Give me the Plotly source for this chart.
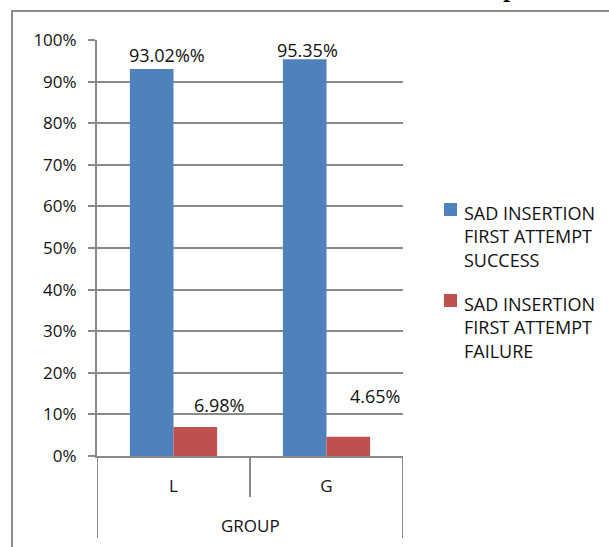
import plotly.graph_objects as go

categories = ["L", "G"]
success = [0.9302, 0.9535]
failure = [0.0698, 0.0465]
success_labels = ["93.02%%", "95.35%"]
failure_labels = ["6.98%", "4.65%"]
series_names = ["SAD INSERTION<br>FIRST ATTEMPT<br>SUCCESS", "SAD INSERTION<br>FIRST ATTEMPT<br>FAILURE"]
colors = ["#4F81BD", "#C0504D"]
axis_title = "GROUP"

W, H = 609, 547
L, R, T, B = 97, 403, 40, 456  # plot area in pixels
pw, ph = R - L, B - T

def px(x):
    return (x - L) / pw

def py(y):
    return (B - y) / ph

FONT = "Open Sans"
GRID = "#8a8a8a"
xs = list(range(len(categories)))

fig = go.Figure()
fig.add_trace(go.Bar(x=xs, y=success, marker=dict(color=colors[0], line=dict(width=0)), showlegend=False))
fig.add_trace(go.Bar(x=xs, y=failure, marker=dict(color=colors[1], line=dict(width=0)), showlegend=False))

annotations = []
# data labels
s_shift = [(-6.5, 14), (-19.5, 9)]
f_shift = [(45.5, 22), (48.5, 41)]
for i in xs:
    annotations.append(dict(x=i, y=success[i], xref="x", yref="y", text=success_labels[i], showarrow=False,
                            xshift=s_shift[i][0], yshift=s_shift[i][1], yanchor="middle",
                            font=dict(size=18, color="#111", family=FONT)))
    annotations.append(dict(x=i, y=failure[i], xref="x", yref="y", text=failure_labels[i], showarrow=False,
                            xshift=f_shift[i][0], yshift=f_shift[i][1], yanchor="middle",
                            font=dict(size=18, color="#111", family=FONT)))
# axis title
annotations.append(dict(x=0.5, y=py(525), xref="paper", yref="paper", text=axis_title, showarrow=False,
                        xanchor="center", yanchor="middle", font=dict(size=17, color="#111", family=FONT)))
# legend (manual)
shapes = []
leg_y = [212, 303]
for k in range(2):
    shapes.append(dict(type="rect", xref="paper", yref="paper", x0=px(444), x1=px(457),
                       y0=py(leg_y[k] - 9 + 13), y1=py(leg_y[k] - 9), fillcolor=colors[k], line=dict(width=0)))
    annotations.append(dict(x=px(462), y=py(leg_y[k] - 13), xref="paper", yref="paper", text=series_names[k],
                            showarrow=False, xanchor="left", yanchor="top", align="left",
                            font=dict(size=18, color="#111", family=FONT)))
# partial title glyph at top (cut off)
annotations.append(dict(x=px(510), y=py(5), xref="paper", yref="paper", text="<b>p</b>", showarrow=False,
                        xanchor="center", yanchor="bottom", font=dict(size=26, color="#000", family="Liberation Serif")))

# category separators below axis
for xv, ybot in [(-0.5, 538), (0.5, 497), (1.5, 538)]:
    shapes.append(dict(type="line", xref="x", yref="paper", x0=xv, x1=xv, y0=0, y1=py(ybot),
                       line=dict(color=GRID, width=2)))
# outer border
shapes.append(dict(type="rect", xref="paper", yref="paper", x0=px(12), x1=px(640), y0=py(580), y1=py(11),
                   line=dict(color="#8c8c8c", width=2), fillcolor="rgba(0,0,0,0)", layer="below"))

fig.update_layout(
    width=W, height=H,
    margin=dict(l=L, r=W - R, t=T, b=H - B, pad=0),
    paper_bgcolor="white", plot_bgcolor="white",
    barmode="group", bargap=0.43, bargroupgap=0,
    annotations=annotations, shapes=shapes,
    xaxis=dict(range=[-0.5, 1.5], tickvals=xs, ticktext=categories, showgrid=False, zeroline=False,
               showline=True, linecolor=GRID, linewidth=2, ticks="", ticklabelstandoff=14,
               tickfont=dict(size=17, color="#111", family=FONT), fixedrange=True),
    yaxis=dict(range=[0, 1], dtick=0.1, tickformat=".0%", showgrid=True, gridcolor=GRID, gridwidth=2,
               zeroline=False, showline=True, linecolor=GRID, linewidth=2, ticks="outside", ticklen=7,
               tickcolor=GRID, tickwidth=2, ticklabelstandoff=8,
               tickfont=dict(size=17, color="#111", family=FONT), fixedrange=True),
    font=dict(family=FONT),
)
fig.write_html("out.html")
